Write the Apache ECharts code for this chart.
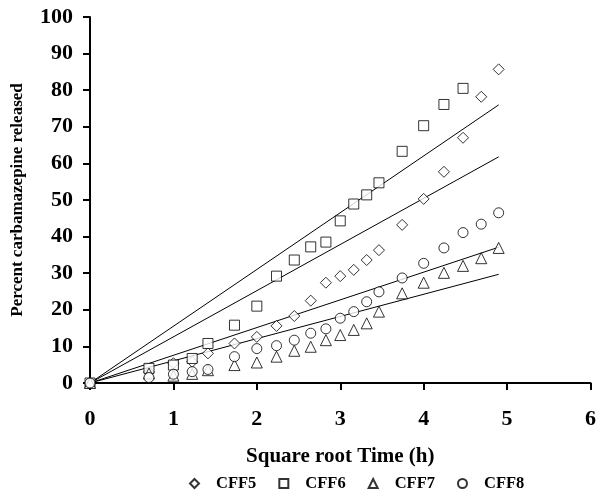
<!DOCTYPE html>
<html>
<head>
<meta charset="utf-8">
<script src="https://cdn.jsdelivr.net/npm/echarts@6/dist/echarts.min.js"></script>
<style>html,body{margin:0;padding:0;background:#fff;}#c{width:599px;height:497px;}</style>
</head>
<body>
<div id="c"></div>
<script>
var sqrtTime = [0, 0.707, 1, 1.225, 1.414, 1.732, 2, 2.236, 2.449, 2.646, 2.828, 3, 3.162, 3.317, 3.464, 3.742, 4, 4.243, 4.472, 4.690, 4.899];
var cff5 = [0, 3.0, 5.4, 5.8, 8.1, 10.8, 12.6, 15.6, 18.3, 22.5, 27.4, 29.2, 30.9, 33.6, 36.3, 43.2, 50.3, 57.7, 67.0, 78.2, 85.7];
var cff6 = [0, 4.0, 4.9, 6.7, 10.8, 15.8, 21.0, 29.2, 33.6, 37.2, 38.5, 44.3, 48.9, 51.4, 54.7, 63.3, 70.3, 76.1, 80.5];
var cff7 = [0, 2.6, 2.0, 2.5, 3.5, 4.9, 5.6, 7.2, 8.8, 9.9, 11.7, 13.1, 14.5, 16.3, 19.5, 24.5, 27.4, 30.1, 32.0, 34.1, 36.9];
var cff8 = [0, 1.5, 2.4, 3.1, 3.7, 7.2, 9.4, 10.2, 11.7, 13.6, 14.8, 17.7, 19.5, 22.2, 24.9, 28.7, 32.7, 36.9, 41.1, 43.4, 46.5];
var fitX = [0, 4.9];
var fitEnds = [76.0, 61.8, 37.1, 29.7];
var xTicks = [0, 1, 2, 3, 4, 5, 6];
var yTicks = [0, 10, 20, 30, 40, 50, 60, 70, 80, 90, 100];

function pairs(ys) { return ys.map(function (v, i) { return [sqrtTime[i], v]; }); }
var font = 'Liberation Serif';
var markerStyle = { color: '#fff', borderColor: '#000', borderWidth: 1 };
function sc(name, sym, ys, size) {
  return { name: name, type: 'scatter', symbol: sym, symbolSize: size, data: pairs(ys), itemStyle: markerStyle, z: 3 };
}
var series = [
  sc('CFF5', 'diamond', cff5, 11),
  sc('CFF6', 'rect', cff6, 10),
  sc('CFF7', 'triangle', cff7, 11),
  sc('CFF8', 'circle', cff8, 10)
];
fitEnds.forEach(function (e, i) {
  series.push({ name: 'fit' + i, type: 'line', data: [[fitX[0], 0], [fitX[1], e]], symbol: 'none', silent: true,
    lineStyle: { color: '#000', width: 1 }, z: 2 });
});
var chart = echarts.init(document.getElementById('c'));
chart.setOption({
  animation: false,
  backgroundColor: '#fff',
  grid: { left: 90, right: 4, top: 17, bottom: 114, containLabel: false },
  xAxis: {
    type: 'value', min: xTicks[0], max: xTicks[xTicks.length - 1], interval: 1,
    name: 'Square root Time (h)', nameLocation: 'middle', nameGap: 63,
    nameTextStyle: { fontFamily: font, fontWeight: 'bold', fontSize: 21, color: '#000' },
    axisLine: { lineStyle: { color: '#000', width: 2 } },
    axisTick: { show: true, length: 7, lineStyle: { color: '#000', width: 2 } },
    axisLabel: { fontFamily: font, fontWeight: 'bold', fontSize: 22, color: '#000', margin: 25, showMaxLabel: true },
    splitLine: { show: false }
  },
  yAxis: {
    type: 'value', min: yTicks[0], max: yTicks[yTicks.length - 1], interval: 10,
    name: 'Percent carbamazepine released', nameLocation: 'middle', nameGap: 64,
    nameTextStyle: { fontFamily: font, fontWeight: 'bold', fontSize: 17, color: '#000' },
    axisLine: { show: true, lineStyle: { color: '#000', width: 2 } },
    axisTick: { show: true, length: 7, lineStyle: { color: '#000', width: 2 } },
    axisLabel: { fontFamily: font, fontWeight: 'bold', fontSize: 22, color: '#000', margin: 17 },
    splitLine: { show: false }
  },
  legend: {
    data: ['CFF5', 'CFF6', 'CFF7', 'CFF8'], bottom: 0, left: 184,
    itemWidth: 9, itemHeight: 9, itemGap: 22,
    textStyle: { fontFamily: font, fontWeight: 'bold', fontSize: 16.5, color: '#000', padding: [0, 0, 0, 12] }
  },
  series: series
});
</script>
</body>
</html>
